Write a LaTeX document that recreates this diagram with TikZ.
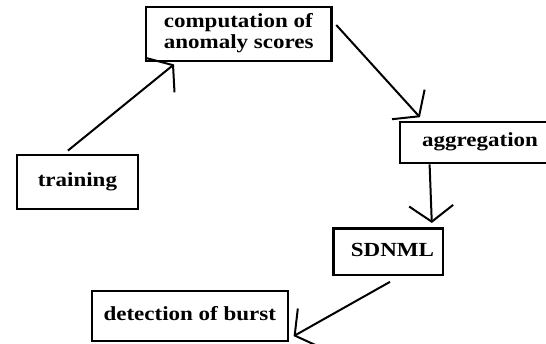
\documentclass[tikz,border=0pt]{standalone}
\usepackage{fontspec}
\setmainfont{Liberation Serif}
\usepackage{graphicx}
\usetikzlibrary{arrows.meta}
\newcommand{\boxtext}[1]{\scalebox{1.15}[1]{\begin{tabular}{@{}l@{}}#1\end{tabular}}}

\begin{document}
\begin{tikzpicture}[x=1pt, y=-1pt,
  box/.style={draw, line width=2.2pt, inner sep=0pt, font=\fontsize{20}{21}\selectfont\bfseries},
  arr/.style={line width=2pt, -{Straight Barb[length=16pt,width=44pt]}}]

\useasboundingbox (0,0) rectangle (546,344);
\clip (0,0) rectangle (546,344);

\node[box, minimum width=185.5pt, minimum height=53.4pt] (comp)  at (238.7,34)   {\boxtext{computation of\\anomaly scores}};
\node[box, minimum width=160pt,   minimum height=41.6pt] (agg)   at (480,142.5)  {\boxtext{aggregation}};
\node[box, minimum width=121.3pt, minimum height=54pt]   (train) at (77.4,182)   {\boxtext{training}\hspace{8pt}};
\node[box, minimum width=109.8pt, minimum height=46.7pt] (sdnml) at (388.4,251.9) {\hspace{8pt}\boxtext{SDNML}};
\node[box, minimum width=195.6pt, minimum height=50.3pt] (det)   at (189.8,315.9) {\boxtext{detection of burst}};

% flow round the loop
\draw[arr] ([xshift=-9.5pt,yshift=3.3pt]train.north) -- ([xshift=-64.7pt,yshift=-2.6pt]comp.south);
\draw[arr] ([xshift=3.7pt,yshift=9pt]comp.east) -- ([xshift=21pt,yshift=3.4pt]agg.north west);
\draw[arr] ([xshift=30.7pt]agg.south west) -- ([xshift=-12.6pt,yshift=4.5pt]sdnml.north east);
\draw[arr] ([xshift=1.6pt,yshift=-5.5pt]sdnml.south) -- ([xshift=4.9pt,yshift=6pt]det.south east);

\end{tikzpicture}
\end{document}
